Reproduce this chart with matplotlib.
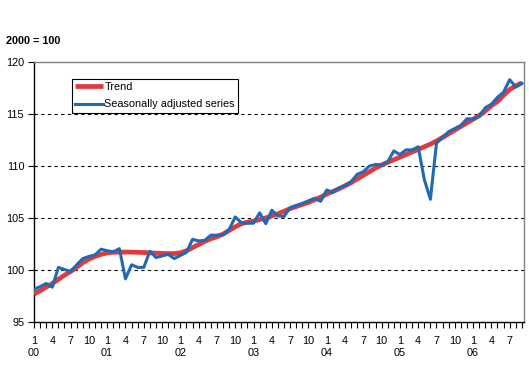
import matplotlib
matplotlib.use("Agg")
import matplotlib.pyplot as plt
import matplotlib.transforms as mtransforms

plt.rcParams['font.family'] = ['Liberation Sans', 'DejaVu Sans']

# Monthly data, Jan 2000 .. Sep 2006
trend = [97.7, 98.0, 98.35, 98.7, 99.1, 99.5, 99.85, 100.25, 100.7, 101.05, 101.3, 101.5,
         101.65, 101.7, 101.72, 101.72, 101.72, 101.7, 101.68, 101.65, 101.62, 101.6, 101.58, 101.58,
         101.65, 101.85, 102.15, 102.45, 102.75, 103.0, 103.2, 103.45, 103.8, 104.15, 104.45, 104.6,
         104.7, 104.85, 105.0, 105.2, 105.4, 105.65, 105.9, 106.1, 106.3, 106.5, 106.75, 107.0,
         107.3, 107.55, 107.8, 108.1, 108.4, 108.75, 109.1, 109.45, 109.8, 110.1, 110.35, 110.6,
         110.85, 111.1, 111.35, 111.6, 111.85, 112.1, 112.4, 112.75, 113.1, 113.45, 113.8, 114.15,
         114.5, 114.85, 115.3, 115.8, 116.2, 116.8, 117.35, 117.7, 118.0]
seasonal = [98.15, 98.4, 98.7, 98.35, 100.25, 100.05, 99.85, 100.5, 101.1, 101.3, 101.45, 102.0,
            101.85, 101.75, 102.05, 99.15, 100.5, 100.25, 100.25, 101.8, 101.2, 101.35, 101.5, 101.1,
            101.4, 101.7, 102.95, 102.8, 102.85, 103.35, 103.35, 103.4, 103.9, 105.1, 104.55, 104.5,
            104.5, 105.5, 104.45, 105.75, 105.2, 105.15, 106.0, 106.2, 106.4, 106.65, 106.9, 106.6,
            107.7, 107.45, 107.9, 108.1, 108.5, 109.2, 109.45, 110.0, 110.15, 110.1, 110.4, 111.45,
            111.1, 111.55, 111.55, 111.85, 108.7, 106.8, 112.2, 112.75, 113.3, 113.6, 113.9, 114.55,
            114.5, 114.75, 115.6, 115.95, 116.6, 117.1, 118.3, 117.6, 117.95]
month_labels = ['1', '4', '7', '10']
year_labels = ['00', '01', '02', '03', '04', '05', '06']
y_ticks = [95, 100, 105, 110, 115, 120]

W, H = 529, 366
fig = plt.figure(figsize=(W / 100, H / 100), dpi=100)
ax = fig.add_axes([34 / W, 1 - 322 / H, (524 - 34) / W, (322 - 62) / H])

x = list(range(len(trend)))
ax.plot(x, trend, color='#E0393E', lw=3.4, label='Trend', solid_capstyle='butt', zorder=3)
ax.plot(x, seasonal, color='#1F6AB3', lw=2.2, label='Seasonally adjusted series', zorder=4)

ax.set_xlim(0, 80.35)
ax.set_ylim(95, 120)

for v in y_ticks[1:-1]:
    ax.axhline(v, color='black', lw=0.8, ls=(0, (3, 3)), zorder=1)

ax.spines['left'].set_color('black')
ax.spines['bottom'].set_color('black')
ax.spines['top'].set_color('#808080')
ax.spines['right'].set_color('#808080')
for s in ax.spines.values():
    s.set_linewidth(1.0)

fs = 7.8
ax.set_yticks(y_ticks)
ax.set_yticklabels([str(v) for v in y_ticks], fontsize=fs)
ax.tick_params(axis='y', direction='out', length=4, width=0.8, pad=3)

ax.set_xticks(x)
labels = []
for m in x:
    if m % 3 == 0:
        labels.append(month_labels[(m % 12) // 3])
    else:
        labels.append('')
ax.set_xticklabels(labels, fontsize=fs)
ax.tick_params(axis='x', direction='out', length=4, width=0.8, pad=6)

trans = mtransforms.blended_transform_factory(ax.transData, ax.transAxes)
for i, yl in enumerate(year_labels):
    ax.text(i * 12, -30.5 / 260, yl, transform=trans, ha='center', va='center', fontsize=fs)

fig.text(6 / W, 1 - 40.5 / H, '2000 = 100', fontsize=fs, fontweight='bold', ha='left', va='center')

leg = ax.legend(loc='upper left', bbox_to_anchor=((72 - 34) / 490, 1 - (79 - 62) / 260),
                fontsize=fs, frameon=True, fancybox=False, framealpha=1,
                edgecolor='black', handlelength=2.6, handletextpad=0.1,
                borderpad=0.3, labelspacing=0.65, borderaxespad=0)
leg.get_frame().set_linewidth(0.8)

fig.savefig('out.png', dpi=100)
